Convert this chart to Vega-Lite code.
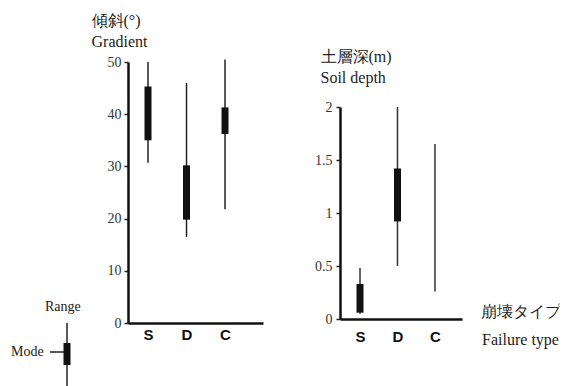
{
  "$schema": "https://vega.github.io/schema/vega-lite/v6.json",
  "padding": {"top": 12, "left": 0, "right": 0, "bottom": 0},
  "background": "white",
  "config": {"view": {"stroke": null}, "font": "Liberation Serif"},
  "bounds": "flush",
  "spacing": 77,
  "hconcat": [
    {
      "width": 51,
      "height": 324,
      "layer": [
        {
          "data": {"values": [{"part": "Range", "x": 67, "y": 0, "y2": 63}]},
          "mark": {"type": "rule", "strokeWidth": 1.5, "color": "#222"},
          "encoding": {
            "x": {"field": "x", "type": "quantitative", "scale": {"domain": [0, 51], "nice": false}, "axis": null},
            "y": {"field": "y", "type": "quantitative", "scale": {"domain": [0, 324], "nice": false}, "axis": null},
            "y2": {"field": "y2"}
          }
        },
        {
          "data": {"values": [{"part": "Mode", "x": 67, "y": 21, "y2": 43}]},
          "mark": {"type": "rule", "strokeWidth": 7, "color": "#111", "strokeCap": "butt"},
          "encoding": {
            "x": {"field": "x", "type": "quantitative"},
            "y": {"field": "y", "type": "quantitative"},
            "y2": {"field": "y2"}
          }
        },
        {
          "data": {"values": [{"part": "pointer", "x": 50, "x2": 64, "y": 34}]},
          "mark": {"type": "rule", "strokeWidth": 1.5, "color": "#222"},
          "encoding": {
            "x": {"field": "x", "type": "quantitative"},
            "x2": {"field": "x2"},
            "y": {"field": "y", "type": "quantitative"}
          }
        },
        {
          "data": {"values": [{"label": "Range", "x": 45, "y": 75}, {"label": "Mode", "x": 11, "y": 30}]},
          "mark": {"type": "text", "align": "left", "baseline": "alphabetic", "font": "Liberation Serif", "fontSize": 14, "color": "#222"},
          "encoding": {
            "x": {"field": "x", "type": "quantitative"},
            "y": {"field": "y", "type": "quantitative"},
            "text": {"field": "label"}
          }
        }
      ]
    },
    {
      "width": 135,
      "height": 261,
      "data": {"values": [
        {"type": "S", "min": 30.7, "max": 50, "mode_lo": 35, "mode_hi": 45.3},
        {"type": "D", "min": 16.5, "max": 46, "mode_lo": 19.8, "mode_hi": 30.2},
        {"type": "C", "min": 21.8, "max": 50.5, "mode_lo": 36.2, "mode_hi": 41.3}
      ]},
      "layer": [
        {
          "mark": {"type": "rule", "strokeWidth": 1.5, "color": "#222"},
          "encoding": {
            "x": {"field": "type", "type": "nominal", "sort": ["S", "D", "C"],
              "scale": {"type": "point", "padding": 0.753, "align": 0.345},
              "axis": {"title": null, "domainWidth": 2.5, "domainColor": "#111", "ticks": false, "labelAngle": 0,
                "labelFont": "Liberation Sans", "labelFontWeight": "bold", "labelFontSize": 15, "labelColor": "#111", "labelPadding": 4}},
            "y": {"field": "min", "type": "quantitative", "scale": {"domain": [0, 50]},
              "axis": {"values": [0, 10, 20, 30, 40, 50], "grid": false,
                "title": ["傾斜(°)", "Gradient"], "titleAngle": 0, "titleAlign": "left", "titleBaseline": "alphabetic",
                "titleX": -37, "titleY": -37, "titleLineHeight": 21, "titleFontSize": 16, "titleFontWeight": "normal",
                "titleFont": "Liberation Serif", "titleColor": "#222",
                "domainWidth": 2.5, "domainColor": "#111", "tickSize": 4, "tickWidth": 1.5, "tickColor": "#222",
                "labelFontSize": 14, "labelColor": "#333", "labelPadding": 3, "labelFont": "Liberation Serif"}},
            "y2": {"field": "max"}
          }
        },
        {
          "mark": {"type": "rule", "strokeWidth": 7, "color": "#111", "strokeCap": "butt"},
          "encoding": {
            "x": {"field": "type", "type": "nominal", "sort": ["S", "D", "C"]},
            "y": {"field": "mode_lo", "type": "quantitative"},
            "y2": {"field": "mode_hi"}
          }
        }
      ]
    },
    {
      "width": 122,
      "height": 257,
      "data": {"values": [
        {"type": "S", "min": 0.05, "max": 0.48, "mode_lo": 0.06, "mode_hi": 0.33},
        {"type": "D", "min": 0.5, "max": 2.0, "mode_lo": 0.92, "mode_hi": 1.42},
        {"type": "C", "min": 0.26, "max": 1.65}
      ]},
      "layer": [
        {
          "mark": {"type": "rule", "strokeWidth": 1.5, "color": "#333"},
          "encoding": {
            "x": {"field": "type", "type": "nominal", "sort": ["S", "D", "C"],
              "scale": {"type": "point", "padding": 0.627, "align": 0.4255},
              "axis": {"domainWidth": 2.5, "domainColor": "#111", "ticks": false, "labelAngle": 0,
                "labelFont": "Liberation Sans", "labelFontWeight": "bold", "labelFontSize": 15, "labelColor": "#111", "labelPadding": 10,
                "title": ["崩壊タイプ", "Failure type"], "titleAlign": "center", "titleBaseline": "alphabetic",
                "titleX": 180, "titleY": -3, "titleLineHeight": 28, "titleFontSize": 16, "titleFontWeight": "normal",
                "titleFont": "Liberation Serif", "titleColor": "#222"}},
            "y": {"field": "min", "type": "quantitative", "scale": {"domain": [0, 2], "range": [257, 45]},
              "axis": {"values": [0, 0.5, 1, 1.5, 2], "format": "~g", "grid": false,
                "title": ["土層深(m)", "Soil depth"], "titleAngle": 0, "titleAlign": "left", "titleBaseline": "alphabetic",
                "titleX": -20, "titleY": -1, "titleLineHeight": 21, "titleFontSize": 16, "titleFontWeight": "normal",
                "titleFont": "Liberation Serif", "titleColor": "#222",
                "domainWidth": 2.5, "domainColor": "#111", "tickSize": 4, "tickWidth": 1.5, "tickColor": "#222",
                "labelFontSize": 14, "labelColor": "#333", "labelPadding": 4, "labelFont": "Liberation Serif"}},
            "y2": {"field": "max"}
          }
        },
        {
          "transform": [{"filter": "isValid(datum.mode_lo)"}],
          "mark": {"type": "rule", "strokeWidth": 7, "color": "#111", "strokeCap": "butt"},
          "encoding": {
            "x": {"field": "type", "type": "nominal", "sort": ["S", "D", "C"]},
            "y": {"field": "mode_lo", "type": "quantitative"},
            "y2": {"field": "mode_hi"}
          }
        }
      ]
    }
  ]
}
